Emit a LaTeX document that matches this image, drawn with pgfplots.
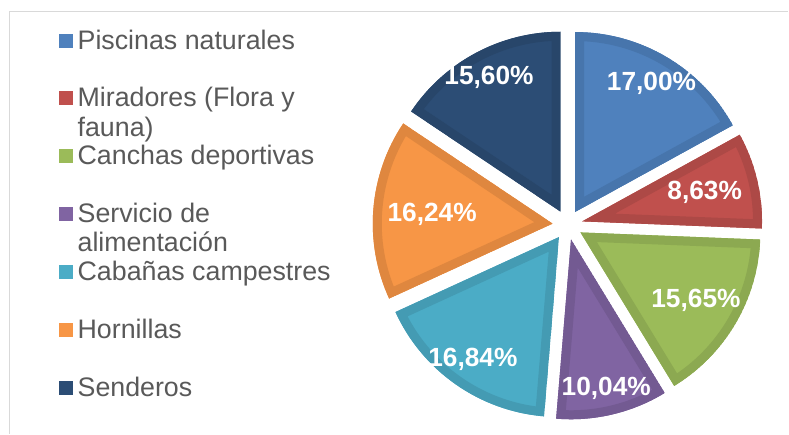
\documentclass[border=0pt]{standalone}
\usepackage{pgfplots}
\pgfplotsset{compat=1.18}
\usepackage{fontspec}
\setmainfont{Liberation Sans}
\definecolor{cA}{HTML}{4F81BD}\definecolor{cAd}{HTML}{4775AC}
\definecolor{cB}{HTML}{C0504D}\definecolor{cBd}{HTML}{AD4946}
\definecolor{cC}{HTML}{9BBB59}\definecolor{cCd}{HTML}{8CA951}
\definecolor{cD}{HTML}{8064A2}\definecolor{cDd}{HTML}{735A92}
\definecolor{cE}{HTML}{4BACC6}\definecolor{cEd}{HTML}{449BB3}
\definecolor{cF}{HTML}{F79646}\definecolor{cFd}{HTML}{DF873F}
\definecolor{cG}{HTML}{2C4D75}\definecolor{cGd}{HTML}{28466A}
\definecolor{lg}{HTML}{595959}
\definecolor{frame}{HTML}{D9D9D9}
\newcommand\lgfont{\fontsize{26.8}{30}\selectfont}
\newcommand\lbfont{\fontsize{26.3}{30}\selectfont}
\begin{document}
\begin{tikzpicture}
\begin{axis}[width=789pt,height=434pt,scale only axis,
  xmin=0,xmax=789,ymin=0,ymax=434,hide axis,clip=false]
\path (axis cs:0,0) rectangle (axis cs:789,434);
\draw[frame, line width=1.2pt] (axis cs:9.5,0) -- (axis cs:9.5,422.5) -- (axis cs:789,422.5);
% pie: value / fill / edge / label distance
\pgfplotsextra{
 \gdef\cum{0}
 \foreach \v/\fc/\ec/\d in {17.00/cA/cAd/165, 8.63/cB/cBd/141, 15.65/cC/cCd/149, 10.04/cD/cDd/168, 16.84/cE/cEd/165, 16.24/cF/cFd/136, 15.60/cG/cGd/167}{
   \pgfmathsetmacro\a{90-3.6*\cum}
   \pgfmathsetmacro\b{90-3.6*(\cum+\v)}
   \pgfmathsetmacro\m{(\a+\b)/2}
   \pgfmathsetmacro\nc{\cum+\v}
   \global\let\cum\nc
   \begin{scope}[shift={(axis cs:568,209)}]
     \begin{scope}[shift={(\m:15pt)}]
       \clip (0,0) -- (\a:180pt) arc[start angle=\a, end angle=\b, radius=180pt] -- cycle;
       \fill[\fc] (0,0) -- (\a:180pt) arc[start angle=\a, end angle=\b, radius=180pt] -- cycle;
       \draw[\ec, line width=18pt, line join=miter] (0,0) -- (\a:180pt) arc[start angle=\a, end angle=\b, radius=180pt] -- cycle;
     \end{scope}
     \node[text=white, inner sep=0pt, font=\lbfont\bfseries] at (\m:\d pt)
       {\pgfmathprintnumber[fixed,fixed zerofill,precision=2,use comma,assume math mode=true]{\v}\%};
   \end{scope}
 }
}
% legend
\newcommand\lgitem[3]{%
  \fill[#1] (axis cs:59,434-#2+1.5) rectangle (axis cs:73,434-#2+15.5);
  \node[anchor=base west, inner sep=0pt, text=lg, font=\lgfont] at (axis cs:77.5,434-#2) {#3};}
\lgitem{cA}{49.5}{Piscinas naturales}
\lgitem{cB}{106.7}{Miradores (Flora y}
\node[anchor=base west, inner sep=0pt, text=lg, font=\lgfont] at (axis cs:77.5,434-136.7) {fauna)};
\lgitem{cC}{164.3}{Canchas deportivas}
\lgitem{cD}{222.5}{Servicio de}
\node[anchor=base west, inner sep=0pt, text=lg, font=\lgfont] at (axis cs:77.5,434-252) {alimentación};
\lgitem{cE}{280.3}{Cabañas campestres}
\lgitem{cF}{338.7}{Hornillas}
\lgitem{cG}{397}{Senderos}
\end{axis}
\end{tikzpicture}
\end{document}
